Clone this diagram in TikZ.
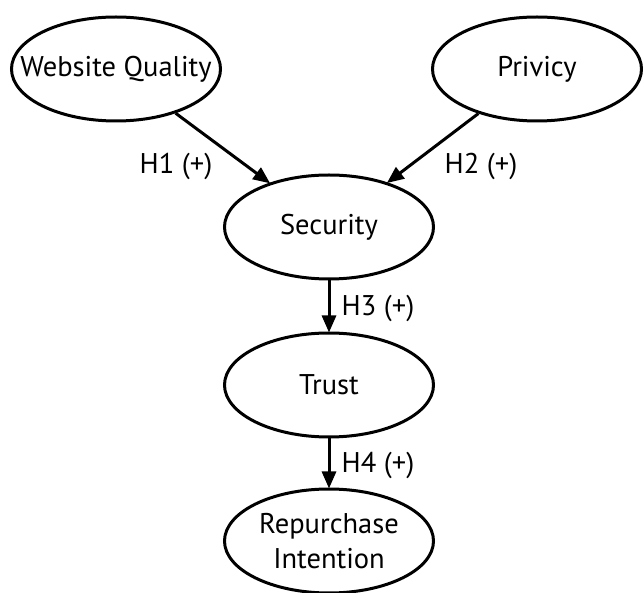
\documentclass[tikz,border=0pt]{standalone}
\usepackage{fontspec}
\setmainfont{PT Sans}
\usetikzlibrary{shapes.geometric,arrows.meta}
\begin{document}
\begin{tikzpicture}[x=1pt,y=-1pt,
  construct/.style={ellipse,draw,line width=3pt,minimum width=209pt,minimum height=104pt,inner sep=0pt},
  txt/.style={font=\fontsize{28.5}{35}\selectfont,align=center,inner sep=0pt},
  link/.style={line width=3pt,-{Triangle[length=17pt,width=14pt]},shorten >=-1pt},
  hyp/.style={font=\fontsize{28.5}{34}\selectfont,inner sep=0pt}]
\useasboundingbox (0,0) rectangle (643,593);
\node[construct,label={[txt]center:Website Quality}] (wq) at (116,69) {};
\node[construct,label={[txt]center:Privicy}] (pr) at (537,69) {};
\node[construct,label={[txt]center:Security}] (se) at (329,227) {};
\node[construct,label={[txt]center:Trust}] (tr) at (329,385) {};
\node[construct,label={[txt]center:Repurchase\\Intention}] (ri) at (329,541) {};
\draw[link] (wq) -- (se);
\draw[link] (pr) -- (se);
\draw[link] (se) -- (tr);
\draw[link] (tr) -- (ri);
\node[hyp] (h1) at (176,166) {H1 (+)};
\node[hyp] (h2) at (481,166) {H2 (+)};
\node[hyp] (h3) at (378,308) {H3 (+)};
\node[hyp] (h4) at (378,465) {H4 (+)};
\end{tikzpicture}
\end{document}
